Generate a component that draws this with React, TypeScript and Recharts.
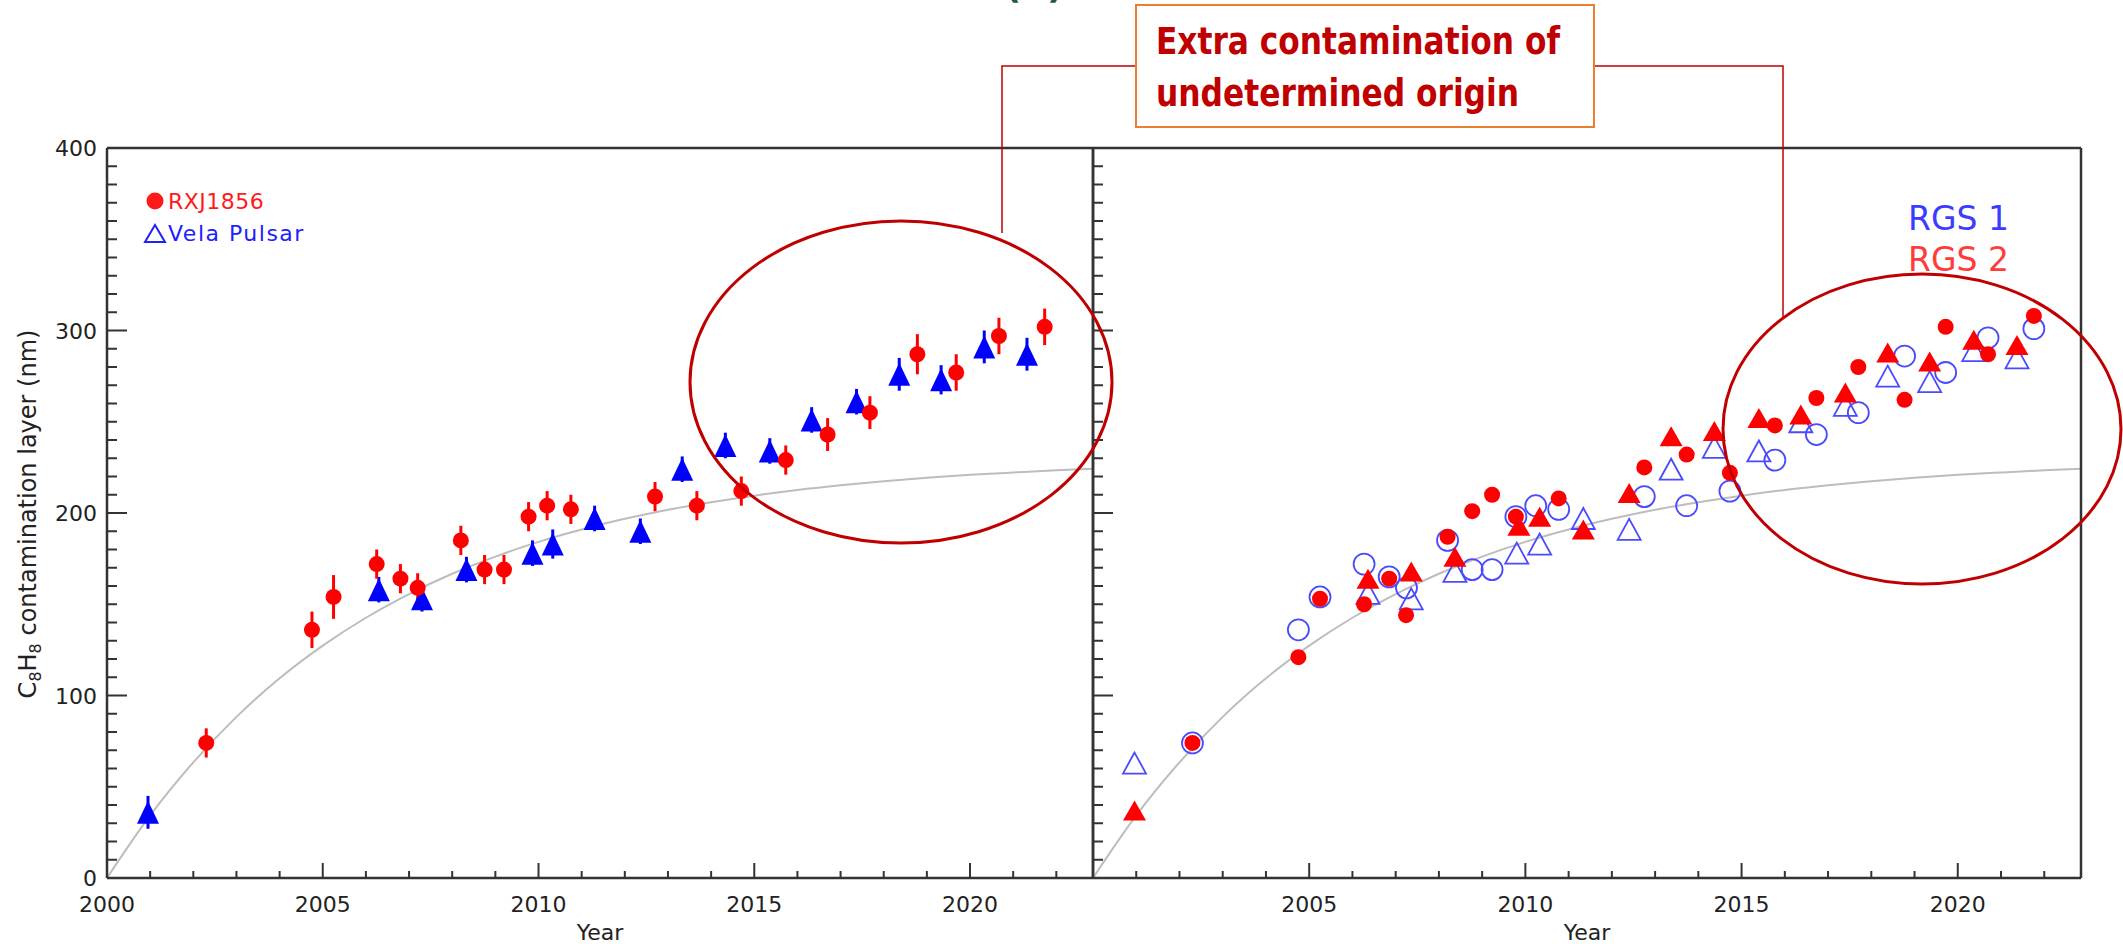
import React from 'react';
import { ComposedChart, ErrorBar, Line, Scatter, XAxis, YAxis } from 'recharts';

// RXJ1856 (left panel): epoch, C8H8 thickness (nm), 1-sigma error
const rxjYears = [
  2002.3, 2004.75, 2005.25, 2006.25, 2006.8, 2007.2, 2008.2, 2008.75, 2009.2, 2009.77, 2010.2,
  2010.75, 2012.7, 2013.67, 2014.7, 2015.73, 2016.7, 2017.68, 2018.78, 2019.68, 2020.67, 2021.73,
];
const rxjValues = [74, 136, 154, 172, 164, 159, 185, 169, 169, 198, 204, 202, 209, 204, 212, 229, 243, 255, 287, 277, 297, 302];
const rxjErrors = [8, 10, 12, 8, 8, 8, 8, 8, 8, 8, 8, 8, 8, 8, 8, 8, 9, 9, 11, 10, 10, 10];

// Vela Pulsar (left panel)
const velaYears = [
  2000.95, 2006.3, 2007.3, 2008.33, 2009.86, 2010.33, 2011.3, 2012.36, 2013.33, 2014.33, 2015.36,
  2016.33, 2017.37, 2018.36, 2019.33, 2020.33, 2021.32,
];
const velaValues = [36, 158, 153, 169, 178, 183, 197, 190, 224, 237, 234, 251, 261, 276, 273, 291, 287];
const velaErrors = [9, 7, 7, 7, 7, 8, 7, 7, 7, 7, 7, 7, 7, 9, 8, 9, 9];

// RGS 1 (right panel): circles = RXJ1856, triangles = Vela
const rgs1CircleYears = [
  2002.3, 2004.75, 2005.25, 2006.27, 2006.85, 2007.25, 2008.2, 2008.77, 2009.23, 2009.78, 2010.24,
  2010.77, 2012.75, 2013.73, 2014.73, 2015.77, 2016.73, 2017.7, 2018.77, 2019.72, 2020.7, 2021.76,
];
const rgs1CircleValues = [74, 136, 154, 172, 165, 159, 185, 169, 169, 198, 204, 202, 209, 204, 212, 229, 243, 255, 286, 277, 296, 301];
const rgs1TriYears = [
  2000.96, 2006.36, 2007.36, 2008.37, 2009.8, 2010.33, 2011.34, 2012.4, 2013.37, 2014.37, 2015.4,
  2016.37, 2017.4, 2018.38, 2019.35, 2020.37, 2021.37,
];
const rgs1TriValues = [63, 156, 153, 168, 178, 183, 197, 191, 224, 236, 234, 250, 259, 275, 272, 289, 285];

// RGS 2 (right panel)
const rgs2CircleYears = [
  2002.3, 2004.75, 2005.25, 2006.27, 2006.85, 2007.24, 2008.2, 2008.77, 2009.23, 2009.78, 2010.77,
  2012.75, 2013.73, 2014.73, 2015.77, 2016.73, 2017.7, 2018.77, 2019.72, 2020.7, 2021.76,
];
const rgs2CircleValues = [74, 121, 153, 150, 164, 144, 187, 201, 210, 198, 208, 225, 232, 222, 248, 263, 280, 262, 302, 287, 308];
const rgs2TriYears = [
  2000.96, 2006.36, 2007.36, 2008.37, 2009.85, 2010.33, 2011.34, 2012.4, 2013.37, 2014.37, 2015.4,
  2016.37, 2017.4, 2018.38, 2019.35, 2020.37, 2021.37,
];
const rgs2TriValues = [37, 164, 168, 176, 193, 198, 191, 211, 242, 245, 252, 254, 266, 288, 283, 295, 292];

// saturating growth model drawn in grey
const fitYears = [
  2000, 2001, 2002, 2003, 2004, 2005, 2006, 2007, 2008, 2009, 2010, 2011, 2012, 2013, 2014, 2015,
  2016, 2017, 2018, 2019, 2020, 2021, 2022, 2022.85,
];
const fitValues = [
  0, 34.3, 63.4, 88.3, 109.4, 127.3, 142.6, 155.6, 166.7, 176.1, 184.2, 191, 196.8, 201.8, 205.9,
  209.5, 212.6, 215.2, 217.4, 219.3, 220.9, 222.2, 223.4, 224.2,
];

const yearTicks = Array.from({ length: 23 }, (_, i) => 2000 + i);
const valueTicks = Array.from({ length: 41 }, (_, i) => i * 10);
const leftYearLabels = [2000, 2005, 2010, 2015, 2020];
const rightYearLabels = [2005, 2010, 2015, 2020];
const valueLabels = [0, 100, 200, 300, 400];
const X_DOMAIN: [number, number] = [2000, 2022.85];
const Y_DOMAIN: [number, number] = [0, 400];

const toPoints = (years: number[], values: number[], errors?: number[]) =>
  years.map((year, i) => ({ year, value: values[i], err: errors ? errors[i] : 0 }));

const rxjData = toPoints(rxjYears, rxjValues, rxjErrors);
const velaData = toPoints(velaYears, velaValues, velaErrors);
const rgs1CircleData = toPoints(rgs1CircleYears, rgs1CircleValues);
const rgs1TriData = toPoints(rgs1TriYears, rgs1TriValues);
const rgs2CircleData = toPoints(rgs2CircleYears, rgs2CircleValues);
const rgs2TriData = toPoints(rgs2TriYears, rgs2TriValues);
const fitData = toPoints(fitYears, fitValues);

const AXIS = '#333';
const FONT = "'DejaVu Sans', 'Liberation Sans', sans-serif";
const CALLOUT_FONT = "'Liberation Sans Narrow', 'DejaVu Sans Condensed', sans-serif";
const DARK_RED = '#C00000';

// IDL-style inward ticks, long on major values
const xTick = (side: 'top' | 'bottom', labels: number[]) => (props: any) => {
  const { x, y, payload } = props;
  const v = payload.value;
  const len = v % 5 === 0 ? 15 : 7;
  const dir = side === 'bottom' ? -1 : 1;
  return (
    <g>
      <line x1={x} y1={y} x2={x} y2={y + dir * len} stroke={AXIS} strokeWidth={2} />
      {side === 'bottom' && labels.includes(v) && (
        <text x={x} y={y + 34} textAnchor='middle' fontSize={22} fontFamily={FONT} fill='#222'>
          {v}
        </text>
      )}
    </g>
  );
};

const yTick = (side: 'left' | 'right', labels: number[]) => (props: any) => {
  const { x, y, payload } = props;
  const v = payload.value;
  const len = v % 100 === 0 ? 20 : 10;
  const dir = side === 'left' ? 1 : -1;
  return (
    <g>
      <line x1={x} y1={y} x2={x + dir * len} y2={y} stroke={AXIS} strokeWidth={2} />
      {side === 'left' && labels.includes(v) && (
        <text x={x - 10} y={y + 8} textAnchor='end' fontSize={22} fontFamily={FONT} fill='#222'>
          {v}
        </text>
      )}
    </g>
  );
};

const filledDot = (fill: string, r: number) => (props: any) =>
  <circle cx={props.cx} cy={props.cy} r={r} fill={fill} />;

const openDot = (stroke: string, r: number) => (props: any) =>
  <circle cx={props.cx} cy={props.cy} r={r} fill='none' stroke={stroke} strokeWidth={1.8} />;

const triangle = (w: number, h: number, fill: string, stroke?: string) => (props: any) => {
  const { cx, cy } = props;
  const pts = `${cx},${cy - h / 2} ${cx - w / 2},${cy + h / 2} ${cx + w / 2},${cy + h / 2}`;
  return stroke
    ? <polygon points={pts} fill='none' stroke={stroke} strokeWidth={1.8} />
    : <polygon points={pts} fill={fill} />;
};

const axisLine = { stroke: AXIS, strokeWidth: 2.5 };

// the four framing axes shared by both panels (1px thick so they still render)
function frameAxes(bottomLabels: number[], leftLabels: number[], showLeftLabels: boolean) {
  return [
    <XAxis
      key='bottom'
      dataKey='year'
      type='number'
      domain={X_DOMAIN}
      ticks={yearTicks}
      interval={0}
      height={1}
      tickSize={0}
      tickMargin={0}
      tickLine={false}
      axisLine={axisLine}
      tick={xTick('bottom', bottomLabels)}
    />,
    <XAxis
      key='top'
      xAxisId='top'
      orientation='top'
      type='number'
      domain={X_DOMAIN}
      ticks={yearTicks}
      interval={0}
      height={1}
      tickSize={0}
      tickMargin={0}
      tickLine={false}
      axisLine={axisLine}
      tick={xTick('top', [])}
    />,
    <YAxis
      key='left'
      dataKey='value'
      type='number'
      domain={Y_DOMAIN}
      ticks={valueTicks}
      interval={0}
      width={1}
      tickSize={0}
      tickMargin={0}
      tickLine={false}
      axisLine={axisLine}
      tick={yTick('left', showLeftLabels ? leftLabels : [])}
    />,
    <YAxis
      key='right'
      yAxisId='right'
      orientation='right'
      type='number'
      domain={Y_DOMAIN}
      ticks={valueTicks}
      interval={0}
      width={1}
      tickSize={0}
      tickMargin={0}
      tickLine={false}
      axisLine={axisLine}
      tick={yTick('right', [])}
    />,
  ];
}

function LeftPanel() {
  return (
    <ComposedChart width={1100} height={944} margin={{ top: 147, right: 6, bottom: 65, left: 106 }}>
      {frameAxes(leftYearLabels, valueLabels, true)}
      <Line
        data={fitData}
        dataKey='value'
        type='monotone'
        stroke='#bdbdbd'
        strokeWidth={2}
        dot={false}
        activeDot={false}
        isAnimationActive={false}
      />
      <Scatter data={velaData} shape={triangle(22, 23, '#0000ff')} isAnimationActive={false}>
        <ErrorBar dataKey='err' direction='y' width={0} stroke='#0000ff' strokeWidth={3} isAnimationActive={false} />
      </Scatter>
      <Scatter data={rxjData} shape={filledDot('#ff0000', 8)} isAnimationActive={false}>
        <ErrorBar dataKey='err' direction='y' width={0} stroke='#ff0000' strokeWidth={3} isAnimationActive={false} />
      </Scatter>
    </ComposedChart>
  );
}

function RightPanel() {
  return (
    <ComposedChart width={1040} height={944} margin={{ top: 147, right: 41, bottom: 65, left: 9 }}>
      {frameAxes(rightYearLabels, valueLabels, false)}
      <Line
        data={fitData}
        dataKey='value'
        type='monotone'
        stroke='#bdbdbd'
        strokeWidth={2}
        dot={false}
        activeDot={false}
        isAnimationActive={false}
      />
      <Scatter data={rgs1CircleData} shape={openDot('#4a4aff', 10.5)} isAnimationActive={false} />
      <Scatter data={rgs1TriData} shape={triangle(23, 21, 'none', '#4a4aff')} isAnimationActive={false} />
      <Scatter data={rgs2CircleData} shape={filledDot('#ff0000', 8)} isAnimationActive={false} />
      <Scatter data={rgs2TriData} shape={triangle(23, 20, '#ff0000')} isAnimationActive={false} />
    </ComposedChart>
  );
}

export default function App() {
  return (
    <div style={{ position: 'absolute', left: 0, top: 0, width: 2123, height: 944, background: '#fff', overflow: 'hidden' }}>
      <div style={{ position: 'absolute', left: 0, top: 0 }}>
        <LeftPanel />
      </div>
      <div style={{ position: 'absolute', left: 1083, top: 0 }}>
        <RightPanel />
      </div>

      <svg width={2123} height={944} style={{ position: 'absolute', left: 0, top: 0, pointerEvents: 'none' }}>
        {/* panel tag, mostly above the frame */}
        <text x={1034} y={-2} textAnchor='middle' fontSize={36} fontWeight='bold' fontFamily={FONT} fill='#1b5a4c'>
          (b)
        </text>

        {/* legends */}
        <circle cx={155} cy={201} r={8.5} fill='#ff1a1a' />
        <text x={168} y={209} fontSize={22} fontFamily={FONT} fill='#ff1a1a' letterSpacing={0.5}>RXJ1856</text>
        <polygon points='155,225 145,242 165,242' fill='none' stroke='#2020ff' strokeWidth={2} />
        <text x={168} y={241} fontSize={22} fontFamily={FONT} fill='#2020ff' letterSpacing={1.5}>Vela Pulsar</text>
        <text x={1908} y={230} fontSize={33} fontFamily={FONT} fill='#3c3cff'>RGS 1</text>
        <text x={1908} y={271} fontSize={33} fontFamily={FONT} fill='#ff3c3c'>RGS 2</text>

        {/* axis titles */}
        <text
          x={36}
          y={514}
          transform='rotate(-90 36 514)'
          textAnchor='middle'
          fontSize={24}
          fontFamily={FONT}
          fill='#222'
        >
          C<tspan fontSize={16} dy={5}>8</tspan>
          <tspan dy={-5}>H</tspan>
          <tspan fontSize={16} dy={5}>8</tspan>
          <tspan dy={-5}> contamination layer (nm)</tspan>
        </text>
        <text x={600} y={940} textAnchor='middle' fontSize={22} fontFamily={FONT} fill='#222'>Year</text>
        <text x={1587} y={940} textAnchor='middle' fontSize={22} fontFamily={FONT} fill='#222'>Year</text>

        {/* highlighted regions and callout */}
        <ellipse cx={901} cy={382} rx={211} ry={161} fill='none' stroke={DARK_RED} strokeWidth={3} />
        <ellipse cx={1922} cy={429} rx={199} ry={155} fill='none' stroke={DARK_RED} strokeWidth={3} />
        <polyline points='1136,66 1002,66 1002,233' fill='none' stroke={DARK_RED} strokeWidth={1.5} />
        <polyline points='1594,66 1783,66 1783,318' fill='none' stroke={DARK_RED} strokeWidth={1.5} />
        <rect x={1136} y={5} width={458} height={122} fill='#fff' stroke='#ED7D31' strokeWidth={2} />
        <text
          x={1156}
          y={54}
          fontSize={37}
          fontWeight='bold'
          fontFamily={CALLOUT_FONT}
          fill={DARK_RED}
          textLength={404}
          lengthAdjust='spacingAndGlyphs'
        >
          Extra contamination of
        </text>
        <text
          x={1156}
          y={106}
          fontSize={37}
          fontWeight='bold'
          fontFamily={CALLOUT_FONT}
          fill={DARK_RED}
          textLength={363}
          lengthAdjust='spacingAndGlyphs'
        >
          undetermined origin
        </text>
      </svg>
    </div>
  );
}
